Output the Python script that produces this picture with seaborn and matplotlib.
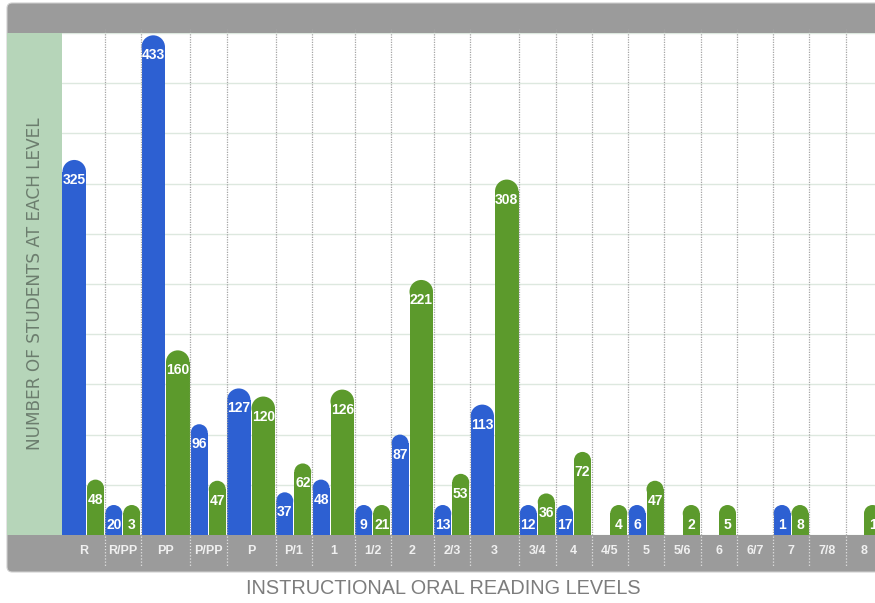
import numpy as np
import pandas as pd
import matplotlib
matplotlib.use("Agg")
import matplotlib.pyplot as plt
import seaborn as sns
from matplotlib.patches import Ellipse, FancyBboxPatch, Rectangle

# ---------------------------------------------------------------
# data
# ---------------------------------------------------------------
levels = ['R', 'R/PP', 'PP', 'P/PP', 'P', 'P/1', '1', '1/2', '2', '2/3',
          '3', '3/4', '4', '4/5', '5', '5/6', '6', '6/7', '7', '7/8', '8']
blue_counts = [325, 20, 433, 96, 127, 37, 48, 9, 87, 13,
               113, 12, 17, None, 6, None, None, None, 1, None, None]
green_counts = [48, 3, 160, 47, 120, 62, 126, 21, 221, 53,
                308, 36, 72, 4, 47, 2, 5, None, 8, None, 1]

# ---------------------------------------------------------------
# style / layout (pixels)
# ---------------------------------------------------------------
W, H = 875, 603
BLUE = '#2d60d2'
GREEN = '#5c9a2c'
BAND = '#9b9b9b'
PANEL = '#b6d5b9'
PLOT_L, PLOT_R, PLOT_T, PLOT_B = 62, 875, 33, 535
Y_MAX = 435
MIN_SHOWN = 26          # tiny bars still get a full cap + label


def bar_width(v):
    # the bars grow to fit three digit labels
    return 23.5 if (v is not None and v >= 100) else 17.0


rows = []
bounds = [PLOT_L]
centers = []
left = PLOT_L
for lvl, b, g in zip(levels, blue_counts, green_counts):
    wb, wg = bar_width(b), bar_width(g)
    cell = wb + wg + 2.25
    centers.append(left + cell / 2)
    for name, v, x0, w in (('Blue', b, left + 0.5, wb),
                           ('Green', g, left + 0.5 + wb + 1, wg)):
        if v is not None:
            rows.append({'level': lvl, 'series': name, 'count': v,
                         'center': x0 + w / 2, 'width': w,
                         'shown': max(v, MIN_SHOWN)})
    left += cell
    bounds.append(left)

df = pd.DataFrame(rows)

# ---------------------------------------------------------------
# figure
# ---------------------------------------------------------------
sns.set_style('white')
plt.rcParams['font.family'] = ['Liberation Sans', 'DejaVu Sans']

fig = plt.figure(figsize=(W / 100, H / 100), dpi=100)


def fx(x):
    return x / W


def fy(y):
    return 1 - y / H


# grey frame (top band + bottom band) and the green side panel
frame = FancyBboxPatch((fx(7), fy(572)), fx(890) - fx(7), fy(3) - fy(572),
                       boxstyle='round,pad=0,rounding_size=0.006',
                       mutation_aspect=W / H, transform=fig.transFigure,
                       facecolor=BAND, edgecolor='#cfcfcf', lw=0.8, zorder=-2)
fig.add_artist(frame)
fig.add_artist(Rectangle((fx(7), fy(PLOT_B)), fx(PLOT_L) - fx(7),
                         fy(PLOT_T) - fy(PLOT_B), transform=fig.transFigure,
                         facecolor=PANEL, edgecolor='none', zorder=-1))

ax = fig.add_axes([fx(PLOT_L), fy(PLOT_B), fx(PLOT_R) - fx(PLOT_L),
                   fy(PLOT_T) - fy(PLOT_B)])
ax.set_facecolor('white')

sns.barplot(data=df, x='center', y='shown', hue='series',
            palette={'Blue': BLUE, 'Green': GREEN}, native_scale=True,
            dodge=False, errorbar=None, legend=False, saturation=1,
            linewidth=0, ax=ax)

ax.set_xlim(PLOT_L, PLOT_R)
ax.set_ylim(0, Y_MAX)
ppy = (PLOT_B - PLOT_T) / Y_MAX   # pixels per count

# round the bar tops and write the counts inside the caps
for p in list(ax.patches):
    cx = p.get_x() + p.get_width() / 2
    row = df.iloc[(df['center'] - cx).abs().argmin()]
    w = row['width']
    top = p.get_height()
    ry = (w / 2) / ppy
    p.set_x(cx - w / 2)
    p.set_width(w)
    p.set_height(top - ry)
    ax.add_patch(Ellipse((cx, top - ry), w, 2 * ry,
                         facecolor=p.get_facecolor(), edgecolor='none',
                         zorder=p.get_zorder()))
    ax.text(cx, top - 20 / ppy, f"{int(row['count'])}", ha='center',
            va='center', color='white', fontsize=10, fontweight='bold',
            zorder=5)

# grid
ax.set_yticks(np.linspace(0, Y_MAX, 11))
ax.set_yticklabels([])
ax.yaxis.grid(True, color='#dde8df', lw=1)
ax.xaxis.grid(False)
ax.set_axisbelow(True)
for b in bounds[1:]:
    ax.plot([b, b], [0, 1.008], transform=ax.get_xaxis_transform(),
            color='#a5a5a5', lw=0.9, ls=(0, (1, 1)), clip_on=False, zorder=1)
    ax.plot([b, b], [-0.002, -0.064], transform=ax.get_xaxis_transform(),
            color='#e2e2e2', lw=0.9, ls=(0, (1, 1.5)), clip_on=False, zorder=1)

ax.set_xticks(centers, levels)
ax.tick_params(axis='both', length=0)
ax.tick_params(axis='x', pad=7.5, labelsize=9, labelcolor='#f0f0f0')
for lbl in ax.get_xticklabels():
    lbl.set_fontweight('bold')
ax.set_xlabel('')
ax.set_ylabel('')
sns.despine(ax=ax, left=True, bottom=True)

fig.text(fx(443.5), fy(589), 'INSTRUCTIONAL ORAL READING LEVELS',
         ha='center', va='center', fontsize=14.3, color='#7d7d7d')
fig.text(fx(35), fy(284), 'NUMBER OF STUDENTS AT EACH LEVEL', rotation=90,
         ha='center', va='center', fontsize=12.2, color='#6c7d6e',
         family=['DejaVu Sans'])

fig.savefig('out.png', dpi=100)
